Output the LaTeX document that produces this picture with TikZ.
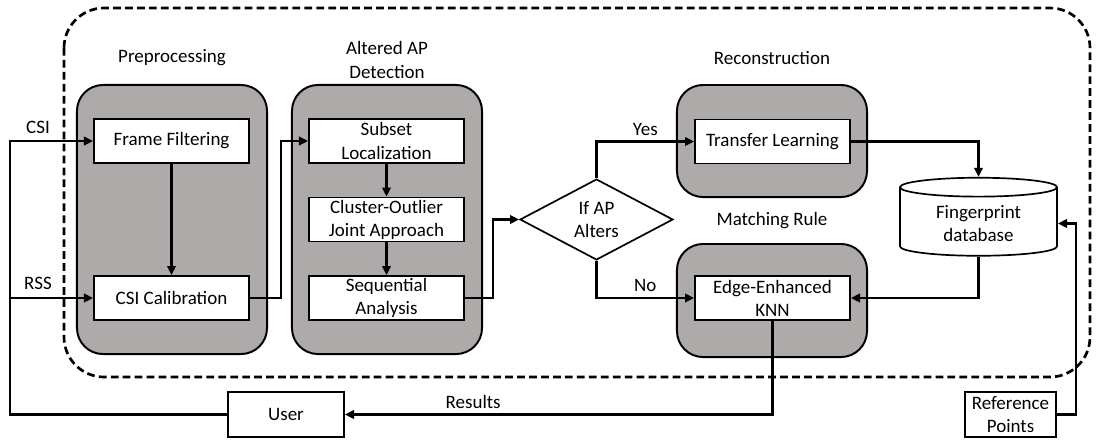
\documentclass[tikz,border=0pt]{standalone}
\usepackage{fontspec}
\setmainfont{Carlito}
\usetikzlibrary{arrows.meta,shapes.geometric}

\definecolor{panelgray}{RGB}{174,170,170}

\tikzset{
  group/.style={draw, line width=1.4pt, fill=panelgray, rounded corners=0.65cm, minimum width=4.75cm},
  block/.style={draw, line width=1.2pt, fill=white, align=center, inner sep=1pt,
    minimum width=3.875cm, minimum height=1.1cm},
  conn/.style={line width=1.9pt}
}

\begin{document}
\begin{tikzpicture}[x=0.025cm, y=-0.025cm, font=\fontsize{13.5}{16.4}\selectfont,
    >={Triangle[length=6.5pt,width=6pt]}]
    \useasboundingbox (0,0) rectangle (1098,441);

    % The system boundary
    \draw[line width=1.9pt, dash pattern=on 5.5pt off 3pt, rounded corners=1cm] (64,8) rectangle (1090,377);

    % The grey stages
    \node[group, minimum height=6.725cm] (pre) at (172,219.5) {};
    \node[group, minimum height=6.725cm] (det) at (387,219.5) {};
    \node[group, minimum height=2.8cm] (rec) at (772,141) {};
    \node[group, minimum height=2.825cm] (mat) at (772,300.5) {};

    % Stage titles
    \node (pretitle) at (172,58) {Preprocessing};
    \node[align=center] (dettitle) at (387,60) {Altered AP\\Detection};
    \node (rectitle) at (772,58) {Reconstruction};
    \node (mattitle) at (772,221) {Matching Rule};

    % Preprocessing
    \node[block] (ff) at (171.5,141) {Frame Filtering};
    \node[block] (cal) at (171.5,298) {CSI Calibration};

    % Altered AP detection
    \node[block] (sub) at (386.5,141) {Subset\\Localization};
    \node[block] (clu) at (386.5,219.5) {Cluster-Outlier\\Joint Approach};
    \node[block] (seq) at (386.5,298) {Sequential\\Analysis};

    % Decision
    \node[draw, diamond, line width=1.2pt, fill=white, align=center, inner sep=0pt,
      minimum width=3.825cm, minimum height=1.925cm] (dia) at (596.5,219.5) {If AP\\Alters};

    % Reconstruction and matching
    \node[block] (tl) at (772.5,141.5) {Transfer Learning};
    \node[block] (knn) at (772.5,298) {Edge-Enhanced\\KNN};

    % Database
    \node[draw, cylinder, shape border rotate=90, aspect=0.2, line width=1.2pt, fill=white,
      align=center, minimum width=3.925cm, minimum height=1.95cm] (db) at (978.5,223.5) {Fingerprint\\database};

    % Outside the boundary
    \node[block, minimum width=2.9cm, minimum height=1.125cm] (user) at (286,414.5) {User};
    \node[block, minimum width=2.275cm, minimum height=1.125cm] (ref) at (1010.5,414.5) {Reference\\Points};

    % Inputs
    \coordinate (csiin) at (10,141);
    \coordinate (rssin) at (10,298);
    \node (csi) at (38,127) {CSI};
    \node (rss) at (38,283) {RSS};
    \draw[conn,->] (user.west) -| (csiin) -- (ff.west);
    \draw[conn,->] (rssin) -- (cal.west);

    % Flow
    \draw[conn,->] (ff) -- (cal);
    \draw[conn,->] (cal.east) -- ++(31,0) |- (sub.west);
    \draw[conn,->] (sub) -- (clu);
    \draw[conn,->] (clu) -- (seq);
    \draw[conn,->] (seq.east) -- ++(28,0) |- (dia.west);
    \draw[conn,->] (dia.north) |- (tl.west) node[pos=0.75, above] (yes) {Yes};
    \draw[conn,->] (dia.south) |- (knn.west) node[pos=0.75, above] (no) {No};
    \draw[conn,->] (tl.east) -| (db.north);
    \draw[conn,->] (db.south) |- (knn.east);
    \draw[conn,->] (ref.east) -- ++(19,0) |- (db.east);
    \draw[conn,->] (knn.south) |- (user.east) node[pos=0.85, above] (res) {Results};
\end{tikzpicture}
\end{document}
